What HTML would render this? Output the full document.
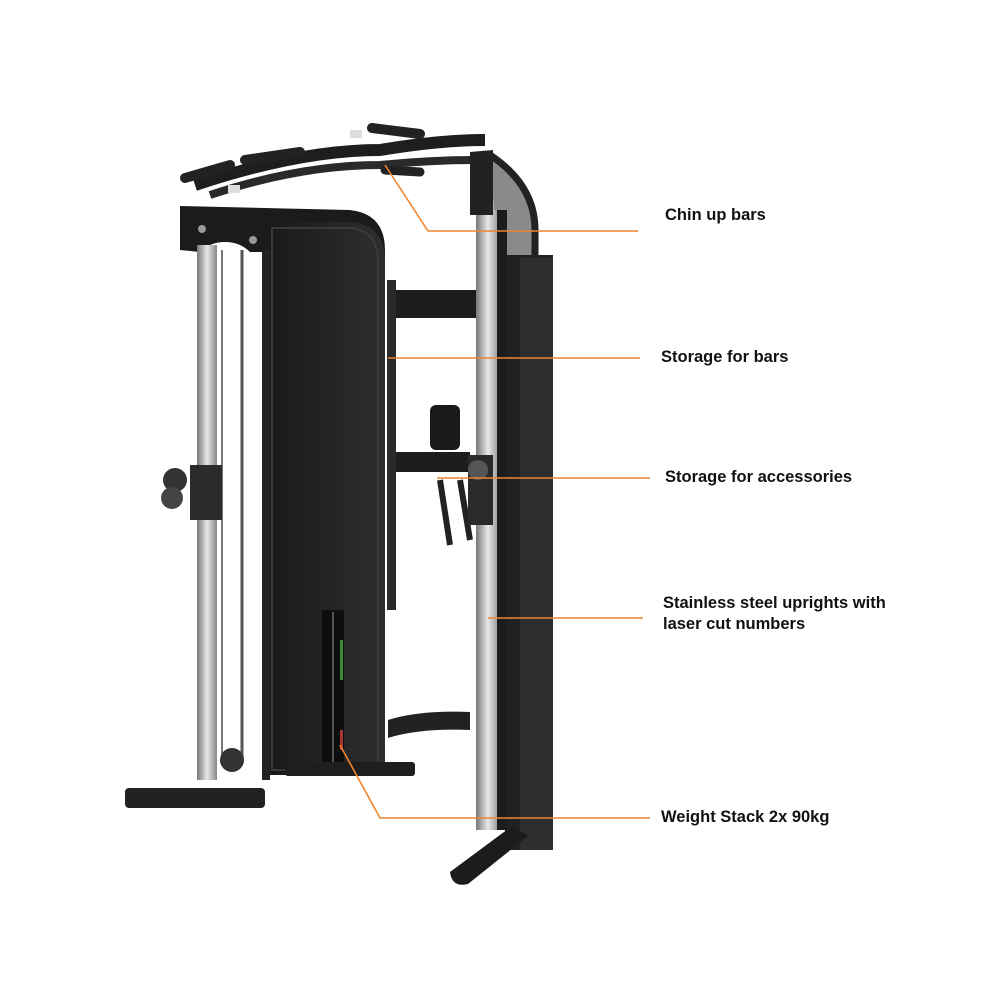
<!DOCTYPE html>
<html><head><meta charset="utf-8"><style>
html,body{margin:0;padding:0;background:#fff;}
.wrap{position:relative;width:1000px;height:1000px;overflow:hidden;background:#fff;}
.lbl{position:absolute;font-family:"Liberation Sans",sans-serif;font-weight:bold;font-size:16.5px;color:#111;line-height:21px;}
</style></head><body><div class="wrap">
<svg width="1000" height="1000" viewBox="0 0 1000 1000" style="position:absolute;left:0;top:0">
<defs>
<linearGradient id="steel" x1="0" x2="1"><stop offset="0" stop-color="#777"/><stop offset=".5" stop-color="#e8e8e8"/><stop offset="1" stop-color="#888"/></linearGradient>
<linearGradient id="panel" x1="0" x2="1"><stop offset="0" stop-color="#1a1a1a"/><stop offset="1" stop-color="#2e2e2e"/></linearGradient>
</defs>
<!-- chin up bars -->
<path d="M195 185 Q300 150 380 150 Q440 140 485 140" stroke="#1e1e1e" stroke-width="12" fill="none"/>
<path d="M210 195 Q300 165 380 165 Q430 160 475 160" stroke="#2a2a2a" stroke-width="8" fill="none"/>
<path d="M372 128 L420 134" stroke="#222" stroke-width="10" stroke-linecap="round"/>
<path d="M245 160 L300 152" stroke="#222" stroke-width="10" stroke-linecap="round"/>
<path d="M185 178 L230 165" stroke="#222" stroke-width="10" stroke-linecap="round"/>
<path d="M385 170 L420 172" stroke="#222" stroke-width="9" stroke-linecap="round"/>
<rect x="228" y="185" width="12" height="8" fill="#ddd"/><rect x="350" y="130" width="12" height="8" fill="#ddd"/>
<!-- left top plate -->
<path d="M180 206 L350 210 Q385 214 385 250 L385 262 L270 262 L270 252 L250 252 Q240 242 225 242 Q210 242 200 252 L180 250 Z" fill="#1b1b1b"/>
<circle cx="202" cy="229" r="4" fill="#999"/><circle cx="253" cy="240" r="4" fill="#999"/>
<!-- left upright -->
<rect x="197" y="245" width="20" height="535" fill="url(#steel)"/>
<line x1="242" y1="250" x2="242" y2="760" stroke="#555" stroke-width="3"/>
<line x1="222" y1="250" x2="222" y2="760" stroke="#777" stroke-width="2"/>
<rect x="262" y="250" width="8" height="530" fill="#222"/>
<!-- pulley carriage -->
<rect x="190" y="465" width="32" height="55" fill="#2b2b2b"/>
<circle cx="175" cy="480" r="12" fill="#333"/><circle cx="172" cy="498" r="11" fill="#444"/>
<circle cx="232" cy="760" r="12" fill="#333"/>
<!-- big panel -->
<path d="M270 222 L350 222 Q385 224 385 262 L385 775 L270 775 Z" fill="url(#panel)"/>
<path d="M272 228 L350 228 Q378 230 378 262 L378 770 L272 770 Z" fill="none" stroke="#3a3a3a" stroke-width="2"/>
<!-- weight stack slot -->
<rect x="322" y="610" width="22" height="155" fill="#0e0e0e"/>
<line x1="333" y1="612" x2="333" y2="762" stroke="#555" stroke-width="2"/>
<g fill="#3a8a3a"><rect x="340" y="640" width="3" height="40"/></g><rect x="340" y="730" width="3" height="20" fill="#a33"/>
<!-- left foot -->
<rect x="125" y="788" width="140" height="20" rx="4" fill="#222"/>
<rect x="285" y="762" width="130" height="14" rx="3" fill="#1e1e1e"/>
<!-- vertical storage post -->
<rect x="387" y="280" width="9" height="330" fill="#2a2a2a"/>
<!-- arms -->
<path d="M396 290 L478 290 L478 318 L396 318 Z" fill="#1d1d1d"/>
<path d="M396 452 L470 452 L470 472 L396 472 Z" fill="#1d1d1d"/>
<path d="M388 720 Q420 710 470 712 L470 730 Q420 728 388 738 Z" fill="#222"/>
<rect x="430" y="405" width="30" height="45" rx="6" fill="#1a1a1a"/>
<path d="M440 480 L450 545 M460 480 L470 540" stroke="#222" stroke-width="6"/>
<!-- right tower -->
<path d="M492 160 Q535 190 535 230 L535 262 L495 262 Z" fill="#8a8a8a"/>
<path d="M490 155 Q535 185 535 230 L535 262" stroke="#222" stroke-width="7" fill="none"/>
<rect x="505" y="255" width="48" height="595" fill="#222"/>
<rect x="520" y="258" width="33" height="592" fill="#2e2e2e"/>
<rect x="476" y="210" width="24" height="620" fill="url(#steel)"/>
<rect x="497" y="210" width="10" height="620" fill="#1c1c1c"/>
<path d="M470 152 L493 150 L493 215 L470 215 Z" fill="#222"/>
<rect x="468" y="455" width="25" height="70" fill="#2a2a2a"/>
<circle cx="478" cy="470" r="10" fill="#555"/>
<!-- right foot -->
<path d="M450 872 L512 826 L528 836 L468 884 Q452 888 450 872 Z" fill="#1c1c1c"/>
<!-- orange leaders -->
<g stroke="#f0842c" stroke-width="1.6" fill="none">
<polyline points="385,165 428,231 638,231"/>
<line x1="388" y1="358" x2="640" y2="358"/>
<line x1="437" y1="478" x2="650" y2="478"/>
<line x1="488" y1="618" x2="643" y2="618"/>
<polyline points="340,745 380,818 650,818"/>
</g>
</svg>
<div class="lbl" style="left:665px;top:205px">Chin up bars</div>
<div class="lbl" style="left:661px;top:347px">Storage for bars</div>
<div class="lbl" style="left:665px;top:467px">Storage for accessories</div>
<div class="lbl" style="left:663px;top:593px">Stainless steel uprights with<br>laser cut numbers</div>
<div class="lbl" style="left:661px;top:807px">Weight Stack 2x 90kg</div>
</div></body></html>
